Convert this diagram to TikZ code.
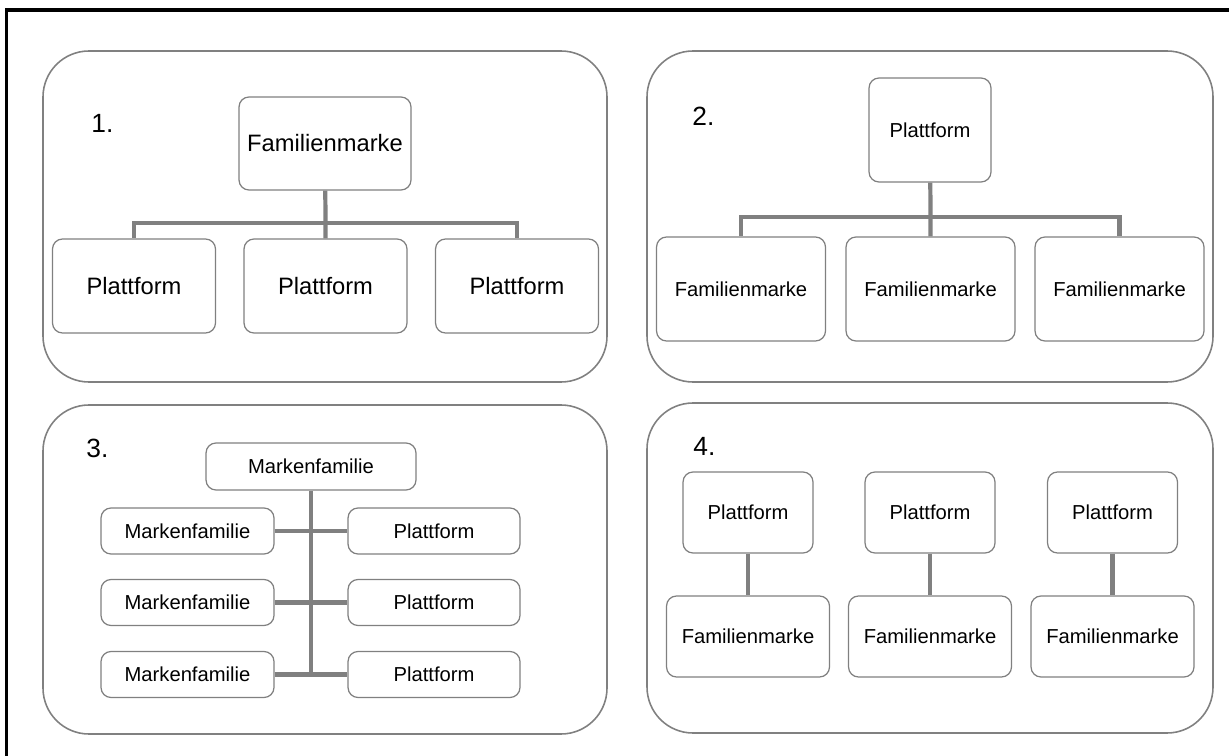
\documentclass[tikz,border=0pt]{standalone}
\usepackage{fontspec}
\setmainfont{Liberation Sans}
\begin{document}
\begin{tikzpicture}[x=0.02cm,y=-0.02cm,
		panel/.style={draw=gray,line width=0.9pt,rounded corners=0.92cm},
		box/.style={draw=gray,line width=0.7pt,rounded corners=0.2cm,fill=white,inner sep=0pt,font=\fontsize{11.5}{13}\selectfont},
		bigbox/.style={box,font=\fontsize{13.5}{16}\selectfont},
		conn/.style={draw=gray,line width=2.4pt},
		num/.style={anchor=west,inner sep=0pt,font=\fontsize{15}{17}\selectfont}]
		\useasboundingbox (0,0) rectangle (1229,756);
		\draw[line width=1.8pt] (6.5,756) -- (6.5,10) -- (1229,10);
		\draw[panel] (43,51) rectangle (607,382);
		\draw[panel] (647,51) rectangle (1213,382);
		\draw[panel] (43,405) rectangle (607,734);
		\draw[panel] (647,403) rectangle (1213,733);
		\node[num] (n1) at (91,123) {1.};
		\node[num] (n2) at (692,116) {2.};
		\node[num] (n3) at (86,448) {3.};
		\node[num] (n4) at (693,446) {4.};
		\node[bigbox,minimum width=3.44cm,minimum height=1.86cm] (fm1) at (325,143.5) {Familienmarke};
		\node[bigbox,minimum width=3.26cm,minimum height=1.88cm] (p1a) at (134,286) {Plattform};
		\node[bigbox,minimum width=3.26cm,minimum height=1.88cm] (p1b) at (325.5,286) {Plattform};
		\node[bigbox,minimum width=3.26cm,minimum height=1.88cm] (p1c) at (517,286) {Plattform};
		\coordinate (j1) at (325.5,223);
		\draw[conn] (fm1) -- (j1) -- (p1b);
		\draw[conn] (j1) -| (p1a);
		\draw[conn] (j1) -| (p1c);
		\node[box,minimum width=2.44cm,minimum height=2.08cm] (p2) at (930,130) {Plattform};
		\node[box,minimum width=3.38cm,minimum height=2.08cm] (fm2a) at (741,289) {Familienmarke};
		\node[box,minimum width=3.38cm,minimum height=2.08cm] (fm2b) at (930.5,289) {Familienmarke};
		\node[box,minimum width=3.38cm,minimum height=2.08cm] (fm2c) at (1119.5,289) {Familienmarke};
		\coordinate (j2) at (930.5,217);
		\draw[conn] (p2) -- (j2) -- (fm2b);
		\draw[conn] (j2) -| (fm2a);
		\draw[conn] (j2) -| (fm2c);
		\node[box,minimum width=4.2cm,minimum height=0.94cm] (mf0) at (311,466.5) {Markenfamilie};
		\node[box,minimum width=3.46cm,minimum height=0.92cm] (mfa) at (187.5,531) {Markenfamilie};
		\node[box,minimum width=3.46cm,minimum height=0.92cm] (mfb) at (187.5,602.5) {Markenfamilie};
		\node[box,minimum width=3.46cm,minimum height=0.92cm] (mfc) at (187.5,674.5) {Markenfamilie};
		\node[box,minimum width=3.44cm,minimum height=0.92cm] (pfa) at (434,531) {Plattform};
		\node[box,minimum width=3.44cm,minimum height=0.92cm] (pfb) at (434,602.5) {Plattform};
		\node[box,minimum width=3.44cm,minimum height=0.92cm] (pfc) at (434,674.5) {Plattform};
		\coordinate (j3) at (311,674.5);
		\draw[conn] (mf0) -- (j3);
		\draw[conn] (mfa) -- (pfa);
		\draw[conn] (mfb) -- (pfb);
		\draw[conn] (mfc) -- (pfc);
		\node[box,minimum width=2.6cm,minimum height=1.62cm] (pt1) at (748,512.5) {Plattform};
		\node[box,minimum width=2.6cm,minimum height=1.62cm] (pt2) at (930,512.5) {Plattform};
		\node[box,minimum width=2.6cm,minimum height=1.62cm] (pt3) at (1112.5,512.5) {Plattform};
		\node[box,minimum width=3.26cm,minimum height=1.62cm] (fb1) at (748,636.5) {Familienmarke};
		\node[box,minimum width=3.26cm,minimum height=1.62cm] (fb2) at (930,636.5) {Familienmarke};
		\node[box,minimum width=3.26cm,minimum height=1.62cm] (fb3) at (1112.5,636.5) {Familienmarke};
		\draw[conn] (pt1) -- (fb1);
		\draw[conn] (pt2) -- (fb2);
		\draw[conn] (pt3) -- (fb3);
		\end{tikzpicture}
\end{document}
